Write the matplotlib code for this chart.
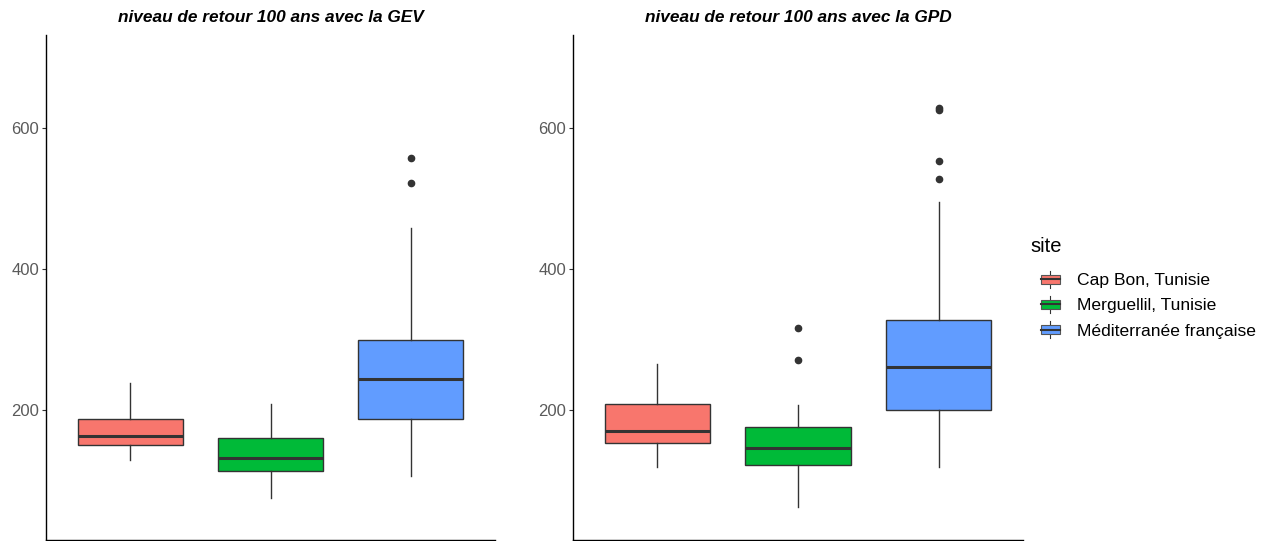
import matplotlib
matplotlib.use("Agg")
import matplotlib.pyplot as plt
from matplotlib.legend_handler import HandlerBase
from matplotlib.patches import Rectangle
from matplotlib.lines import Line2D

plt.rcParams['font.family'] = ['Liberation Sans', 'DejaVu Sans']

sites = ['Cap Bon, Tunisie', 'Merguellil, Tunisie', 'Méditerranée française']
colors = ['#F8766D', '#00BA38', '#619CFF']

# GEV: whisker low, q1, median, q3, whisker high, outliers
gev_wlo = [128, 74, 106]
gev_q1 = [150, 113, 187]
gev_med = [162, 132, 243]
gev_q3 = [187, 160, 299]
gev_whi = [238, 208, 458]
gev_out = [[], [], [522, 557]]

# GPD
gpd_wlo = [118, 62, 118]
gpd_q1 = [153, 122, 200]
gpd_med = [170, 146, 261]
gpd_q3 = [208, 176, 328]
gpd_whi = [265, 207, 495]
gpd_out = [[], [271, 316], [528, 553, 625, 628]]

titles = ['niveau de retour 100 ans avec la GEV', 'niveau de retour 100 ans avec la GPD']


def make_stats(wlo, q1, med, q3, whi, out):
    return [dict(whislo=a, q1=b, med=c, q3=d, whishi=e, fliers=f, label=s)
            for a, b, c, d, e, f, s in zip(wlo, q1, med, q3, whi, out, sites)]


fig = plt.figure(figsize=(12.66, 5.41), dpi=100)
W, H = 1266, 541
panels = [
    (make_stats(gev_wlo, gev_q1, gev_med, gev_q3, gev_whi, gev_out), 46, 495),
    (make_stats(gpd_wlo, gpd_q1, gpd_med, gpd_q3, gpd_whi, gpd_out), 573, 1023),
]
top, bottom = 35, 540

for (stats, x0, x1), title in zip(panels, titles):
    ax = fig.add_axes([x0 / W, 1 - bottom / H, (x1 - x0) / W, (bottom - top) / H])
    bp = ax.bxp(stats, positions=[1, 2, 3], widths=0.75, patch_artist=True,
                showcaps=False,
                boxprops=dict(edgecolor='#333333', linewidth=1.0),
                medianprops=dict(color='#333333', linewidth=2.2),
                whiskerprops=dict(color='#333333', linewidth=1.0),
                flierprops=dict(marker='o', markerfacecolor='#333333',
                                markeredgecolor='#333333', markersize=4.5))
    for patch, c in zip(bp['boxes'], colors):
        patch.set_facecolor(c)
    ax.set_xlim(0.4, 3.6)
    ax.set_ylim(15, 732)
    ax.set_yticks([200, 400, 600])
    ax.set_xticks([])
    ax.tick_params(axis='y', colors='#333333', labelsize=12, length=3,
                   width=0.8, pad=2)
    for lab in ax.get_yticklabels():
        lab.set_color('#5a5a5a')
    ax.spines['top'].set_visible(False)
    ax.spines['right'].set_visible(False)
    ax.spines['left'].set_linewidth(1.0)
    ax.spines['bottom'].set_linewidth(1.0)
    ax.set_title(title, fontsize=12.4, fontweight='bold', fontstyle='italic', pad=9)


class BoxHandler(HandlerBase):
    def create_artists(self, legend, orig_handle, xdescent, ydescent,
                       width, height, fontsize, trans):
        cx = -xdescent + width / 2
        lo, hi = 0.25, 0.75
        rect = Rectangle((-xdescent, -ydescent + height * lo),
                         width, height * (hi - lo),
                         facecolor=orig_handle.get_facecolor(),
                         edgecolor='#555555', linewidth=0.8, transform=trans)
        med = Line2D([-xdescent, -xdescent + width],
                     [-ydescent + height / 2] * 2, color='#333333',
                     linewidth=1.5, transform=trans)
        wt = Line2D([cx, cx], [-ydescent + height * hi, -ydescent + height * 0.95],
                    color='#333333', linewidth=0.8, transform=trans)
        wb = Line2D([cx, cx], [-ydescent + height * 0.05, -ydescent + height * lo],
                    color='#333333', linewidth=0.8, transform=trans)
        return [wt, wb, rect, med]


# legend title drawn as plain text so the gap to the entries can match
fig.text(1030 / W, 1 - 246 / H, 'site', fontsize=14.5, va='center', ha='left')

handles = [Rectangle((0, 0), 1, 1, facecolor=c) for c in colors]
leg = fig.legend(handles, sites, loc='upper left',
                 bbox_to_anchor=(1025 / W, 1 - 254 / H), frameon=False,
                 handler_map={Rectangle: BoxHandler()},
                 handlelength=1.1, handleheight=1.3, handletextpad=0.95,
                 labelspacing=0.35, fontsize=12.6)

fig.savefig('out.png', dpi=100)
